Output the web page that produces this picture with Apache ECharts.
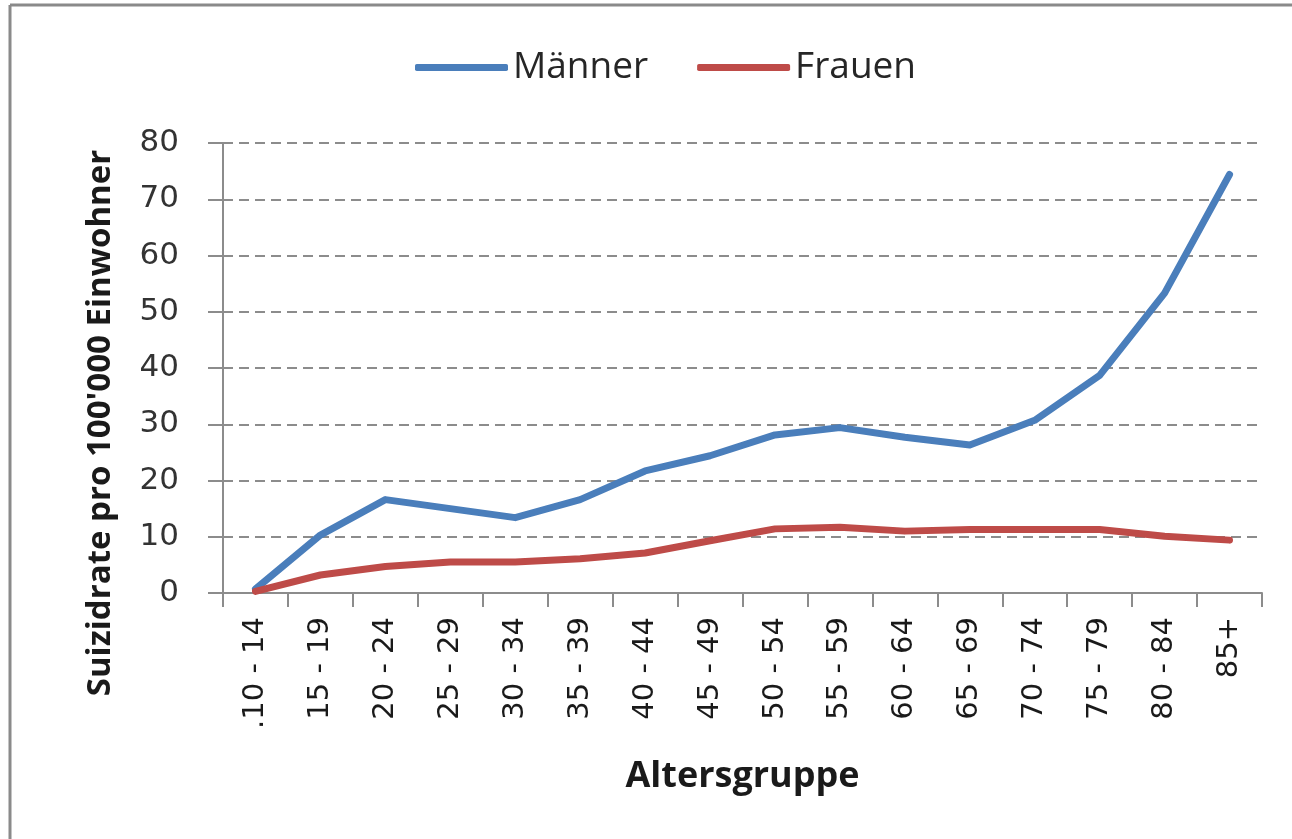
<!DOCTYPE html>
<html>
<head>
<meta charset="utf-8">
<script src="https://cdn.jsdelivr.net/npm/echarts@6/dist/echarts.min.js"></script>
<style>
html,body{margin:0;padding:0;background:#fff;}
#chart{width:1292px;height:839px;}
</style>
</head>
<body>
<div id="chart"></div>
<script>
var categories = ['.10 - 14','15 - 19','20 - 24','25 - 29','30 - 34','35 - 39','40 - 44','45 - 49','50 - 54','55 - 59','60 - 64','65 - 69','70 - 74','75 - 79','80 - 84','85+'];
var maenner = [0.7, 10.3, 16.6, 15.0, 13.4, 16.6, 21.7, 24.4, 28.1, 29.4, 27.7, 26.3, 30.7, 38.7, 53.3, 74.4];
var frauen = [0.3, 3.2, 4.7, 5.5, 5.5, 6.1, 7.1, 9.3, 11.4, 11.7, 11.0, 11.3, 11.3, 11.3, 10.1, 9.4];
var yTicks = [0, 10, 20, 30, 40, 50, 60, 70, 80];
var yTitle = "Suizidrate pro 100'000 Einwohner";
var xTitle = 'Altersgruppe';

var chart = echarts.init(document.getElementById('chart'));
chart.setOption({
  backgroundColor: '#ffffff',
  animation: false,
  graphic: [{
    type: 'line',
    shape: {x1: 10, y1: 5, x2: 10, y2: 839},
    style: {stroke: '#8a8a8a', lineWidth: 3},
    silent: true
  }, {
    type: 'line',
    shape: {x1: 10, y1: 5, x2: 1292, y2: 5},
    style: {stroke: '#8a8a8a', lineWidth: 3},
    silent: true
  }, {
    type: 'text',
    x: 101,
    y: 423,
    rotation: Math.PI / 2,
    style: {
      text: yTitle,
      fontFamily: 'Open Sans',
      fontWeight: 'bold',
      fontSize: 33,
      fill: '#1a1a1a',
      align: 'center',
      verticalAlign: 'middle'
    },
    silent: true
  }],
  legend: {
    left: 410,
    top: 44,
    itemWidth: 93,
    itemHeight: 7,
    itemGap: 49,
    icon: 'roundRect',
    textStyle: {fontFamily: 'Open Sans', fontSize: 37, color: '#262626'},
    data: ['Männer', 'Frauen']
  },
  grid: {left: 223, right: 30, top: 143, bottom: 246, containLabel: false},
  xAxis: {
    type: 'category',
    data: categories,
    boundaryGap: true,
    name: xTitle,
    nameLocation: 'middle',
    nameGap: 166,
    nameTextStyle: {fontFamily: 'Open Sans', fontWeight: 'bold', fontSize: 36, color: '#1a1a1a'},
    axisLine: {lineStyle: {color: '#8c8c8c', width: 2}},
    axisTick: {show: true, alignWithLabel: false, length: 14, lineStyle: {color: '#8c8c8c', width: 2}},
    axisLabel: {rotate: 90, margin: 24, fontFamily: 'DejaVu Sans', fontSize: 29, color: '#1a1a1a', interval: 0},
    splitLine: {show: false}
  },
  yAxis: {
    type: 'value',
    min: 0,
    max: 80,
    interval: 10,
    axisLine: {show: true, lineStyle: {color: '#8c8c8c', width: 2}},
    axisTick: {show: true, length: 15, lineStyle: {color: '#8c8c8c', width: 2}},
    axisLabel: {margin: 44, fontFamily: 'DejaVu Sans', fontSize: 31, color: '#333333',
      formatter: function (v) { return yTicks.indexOf(v) >= 0 ? String(v) : ''; }},
    splitLine: {show: true, lineStyle: {color: '#8c8c8c', width: 2, type: [10, 6]}}
  },
  series: [{
    name: 'Männer',
    type: 'line',
    data: maenner,
    symbol: 'none',
    color: '#4a7ebb',
    lineStyle: {color: '#4a7ebb', width: 7, cap: 'round', join: 'round'}
  }, {
    name: 'Frauen',
    type: 'line',
    data: frauen,
    symbol: 'none',
    color: '#be4b48',
    lineStyle: {color: '#be4b48', width: 7, cap: 'round', join: 'round'}
  }]
});
</script>
</body>
</html>
